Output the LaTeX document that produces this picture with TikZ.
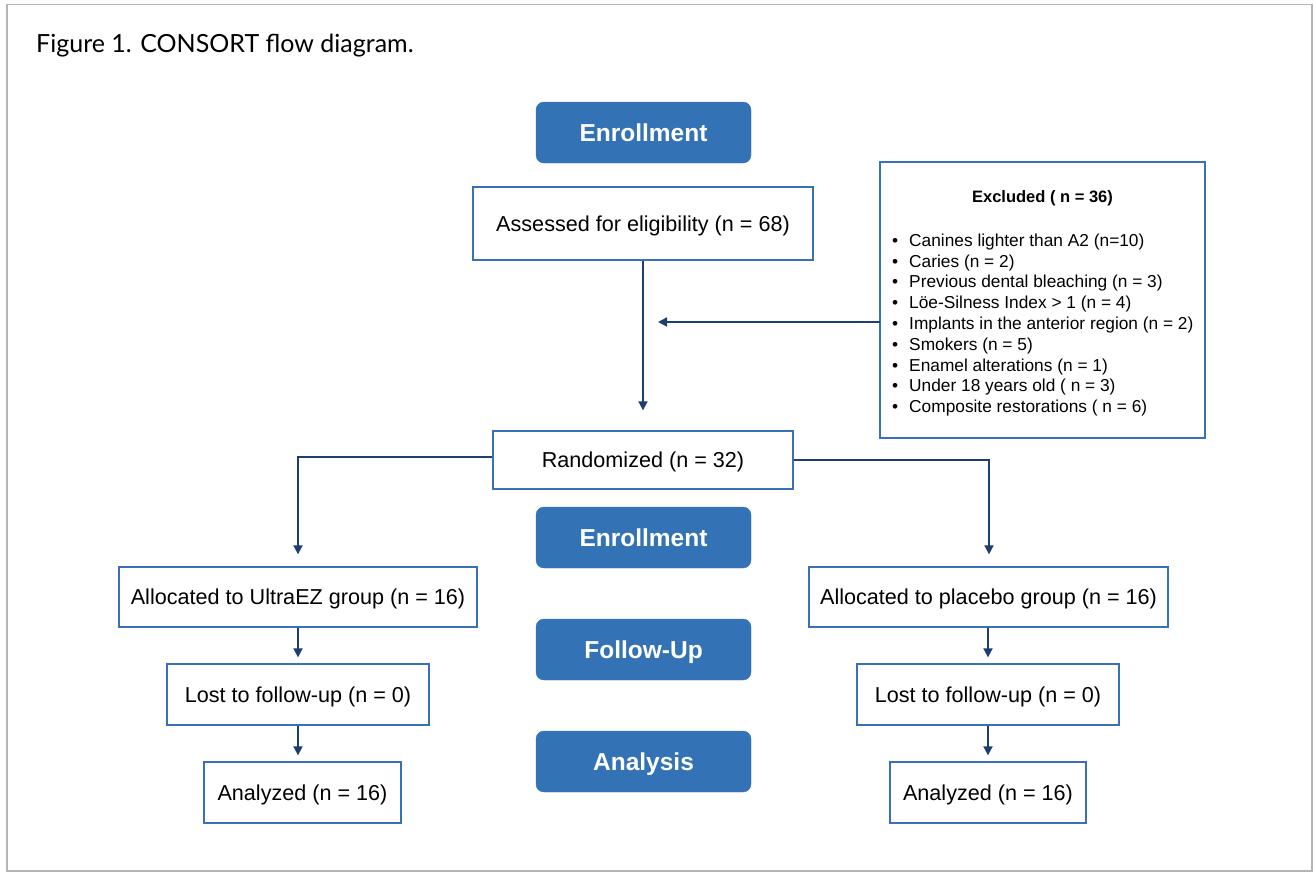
\documentclass[tikz,border=0pt]{standalone}
\usepackage{fontspec}
\setmainfont{Liberation Sans}
\newfontfamily\titlefont{Lato}
\usetikzlibrary{arrows.meta}
\definecolor{btnblue}{HTML}{3272B5}
\definecolor{boxblue}{HTML}{3A70B8}
\definecolor{linknavy}{HTML}{1E3E70}
\definecolor{framegray}{HTML}{B4B4B4}
\tikzset{
  btn/.style={draw=btnblue, fill=btnblue, rounded corners=8pt, text=white,
    font=\fontsize{24.5}{28}\selectfont\bfseries, minimum width=215pt, minimum height=61pt, inner sep=0pt,
    text depth=0pt},
  flowbox/.style={draw=boxblue, line width=1.3pt, fill=white, font=\fontsize{21.6}{25}\selectfont,
    inner sep=0pt, text depth=0pt},
  link/.style={draw=linknavy, line width=1.8pt, -{Triangle[width=9pt,length=9pt]}},
}
\begin{document}
\begin{tikzpicture}[x=1pt,y=-1pt]
\useasboundingbox (0,0) rectangle (1315,873);
\draw[framegray, line width=1.6pt] (7,4.5) rectangle (1312,871);
\node[anchor=base west, font=\titlefont\fontsize{25}{30}\selectfont, inner sep=0pt] (title) at (36,52) {Figure 1. CONSORT flow diagram.};

\node[btn] (enr1) at (643.5,132.5) {Enrollment};
\node[btn] (enr2) at (643.5,537.5) {Enrollment};
\node[btn] (fu) at (643.5,649.5) {Follow-Up};
\node[btn] (an) at (643.5,761.5) {Analysis};

\node[flowbox, minimum width=340pt, minimum height=73pt] (assess) at (643,223.5) {Assessed for eligibility (n = 68)};
\node[flowbox, minimum width=325pt, minimum height=276pt] (excl) at (1042.5,300) {};
\node[font=\fontsize{16.5}{20}\selectfont\bfseries, inner sep=0pt] (exclt) at (1042.5,198) {Excluded ( n = 36)};
\node[anchor=north west, inner sep=0pt, font=\fontsize{17.3}{20.8}\selectfont] (exclist) at (892,231.5) {%
\begin{tabular}{@{}l@{\hspace{11pt}}l@{}}
\textbullet & Canines lighter than A2 (n=10)\\
\textbullet & Caries (n = 2)\\
\textbullet & Previous dental bleaching (n = 3)\\
\textbullet & Löe-Silness Index > 1 (n = 4)\\
\textbullet & Implants in the anterior region (n = 2)\\
\textbullet & Smokers (n = 5)\\
\textbullet & Enamel alterations (n = 1)\\
\textbullet & Under 18 years old ( n = 3)\\
\textbullet & Composite restorations ( n = 6)
\end{tabular}};

\node[flowbox, minimum width=300pt, minimum height=58pt] (rand) at (643,460) {Randomized (n = 32)};
\node[flowbox, minimum width=358pt, minimum height=60pt] (alloc1) at (298,597) {Allocated to UltraEZ group (n = 16)};
\node[flowbox, minimum width=359pt, minimum height=60pt] (alloc2) at (988.5,597) {Allocated to placebo group (n = 16)};
\node[flowbox, minimum width=262pt, minimum height=61pt] (lost1) at (298,694.5) {Lost to follow-up (n = 0)};
\node[flowbox, minimum width=262pt, minimum height=61pt] (lost2) at (988,694.5) {Lost to follow-up (n = 0)};
\node[flowbox, minimum width=197pt, minimum height=61pt] (anl1) at (302.5,792.5) {Analyzed (n = 16)};
\node[flowbox, minimum width=196pt, minimum height=61pt] (anl2) at (988,792.5) {Analyzed (n = 16)};

\coordinate (exclpt) at (880,322);
\draw[link, shorten >=20pt] (assess.south) -- (rand.north);
\draw[link, shorten >=15pt] (exclpt) -- (exclpt -| assess.south);
\draw[link, shorten >=12pt] ([yshift=3pt]rand.west) -| (alloc1.north);
\draw[link, shorten >=12pt] (rand.east) -| ([xshift=0.5pt]alloc2.north);
\draw[link, shorten >=6pt] (alloc1.south) -- (lost1.north);
\draw[link, shorten >=6pt] (alloc2.south -| lost2.north) -- (lost2.north);
\draw[link, shorten >=6pt] (lost1.south) -- (lost1.south |- anl1.north);
\draw[link, shorten >=6pt] (lost2.south) -- (anl2.north);
\end{tikzpicture}
\end{document}
